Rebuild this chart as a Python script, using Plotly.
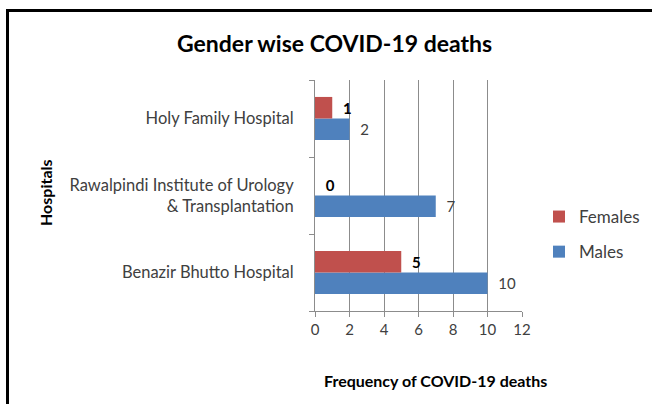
import plotly.graph_objects as go

hospitals = ["Benazir Bhutto Hospital",
             "Rawalpindi Institute of Urology<br>& Transplantation",
             "Holy Family Hospital"]
males = [10, 7, 2]
females = [5, 0, 1]
x_ticks = [0, 2, 4, 6, 8, 10, 12]

FONT = "Lato"
BLUE = "#4F81BD"
RED = "#C0504D"
GRID = "#8C8C8C"

W, H = 652, 404
L, MR, T, B = 315, 0, 80, 311       # paper area (pixels)
PLOT_R = 522                         # right edge of the x axis (pixels)
PW = W - L - MR


def px_x(px):
    return (px - L) / PW


def px_y(py):
    return (B - py) / (B - T)


fig = go.Figure()
fig.add_trace(go.Bar(
    y=hospitals, x=males, orientation="h", name="Males",
    marker=dict(color=BLUE, line=dict(width=0)),
    text=[f"\u00a0\u00a0{v}" for v in males], textposition="outside",
    textfont=dict(family=FONT, size=15, color="#404040"),
    cliponaxis=False, legendrank=2, legendgroup="m",
))
fig.add_trace(go.Bar(
    y=hospitals, x=females, orientation="h", name="Females",
    marker=dict(color=RED, line=dict(width=0)),
    text=[f"\u00a0\u00a0<b>{v}</b>" for v in females], textposition="outside",
    textfont=dict(family=FONT, size=15, color="#000000"),
    cliponaxis=False, legendrank=1, legendgroup="f",
))

fig.update_layout(
    width=W, height=H, autosize=False,
    margin=dict(l=L, r=MR, t=T, b=H - B, pad=0, autoexpand=False),
    paper_bgcolor="white", plot_bgcolor="white",
    barmode="group", bargap=0.44, bargroupgap=0,
    font=dict(family=FONT, size=14, color="#404040"),
    showlegend=True,
    legend=dict(
        x=px_x(539), y=px_y(199), xanchor="left", yanchor="top",
        traceorder="grouped", tracegroupgap=10, itemsizing="constant",
        font=dict(family=FONT, size=17, color="#404040"),
        bgcolor="rgba(0,0,0,0)",
    ),
    xaxis=dict(
        domain=[0, (PLOT_R - L) / PW],
        range=[0, 12], tickvals=x_ticks, ticktext=[str(v) for v in x_ticks],
        showgrid=True, gridcolor=GRID, gridwidth=1,
        showline=True, linecolor=GRID, linewidth=1,
        ticks="outside", ticklen=5, tickcolor=GRID,
        tickfont=dict(family=FONT, size=15, color="#404040"),
        zeroline=False, fixedrange=True, automargin=False,
    ),
    yaxis=dict(
        type="category", categoryorder="array", categoryarray=hospitals,
        showline=True, linecolor=GRID, linewidth=1,
        ticks="outside", ticklen=5, tickcolor=GRID, tickson="boundaries",
        tickfont=dict(family=FONT, size=16.5, color="#404040"),
        ticklabelstandoff=17, showgrid=False, fixedrange=True, automargin=False,
    ),
    annotations=[
        dict(text="<b>Gender wise COVID-19 deaths</b>", xref="paper", yref="paper",
             x=px_x(334), y=px_y(43), xanchor="center", yanchor="middle",
             showarrow=False, font=dict(family=FONT, size=23, color="#000000")),
        dict(text="<b>Frequency of COVID-19 deaths</b>", xref="paper", yref="paper",
             x=px_x(435), y=px_y(380), xanchor="center", yanchor="middle",
             showarrow=False, font=dict(family=FONT, size=16, color="#000000")),
        dict(text="<b>Hospitals</b>", xref="paper", yref="paper", textangle=-90,
             x=px_x(45), y=px_y(193), xanchor="center", yanchor="middle",
             showarrow=False, font=dict(family=FONT, size=16, color="#000000")),
    ],
    shapes=[
        dict(type="rect", xref="paper", yref="paper",
             x0=px_x(7.5), x1=px_x(670),
             y0=px_y(420), y1=px_y(10.5),
             line=dict(color="black", width=3), fillcolor="rgba(0,0,0,0)", layer="above"),
    ],
)

fig.write_html("out.html", config={"displayModeBar": False, "responsive": False},
               post_script="document.body.style.margin='0px';")
